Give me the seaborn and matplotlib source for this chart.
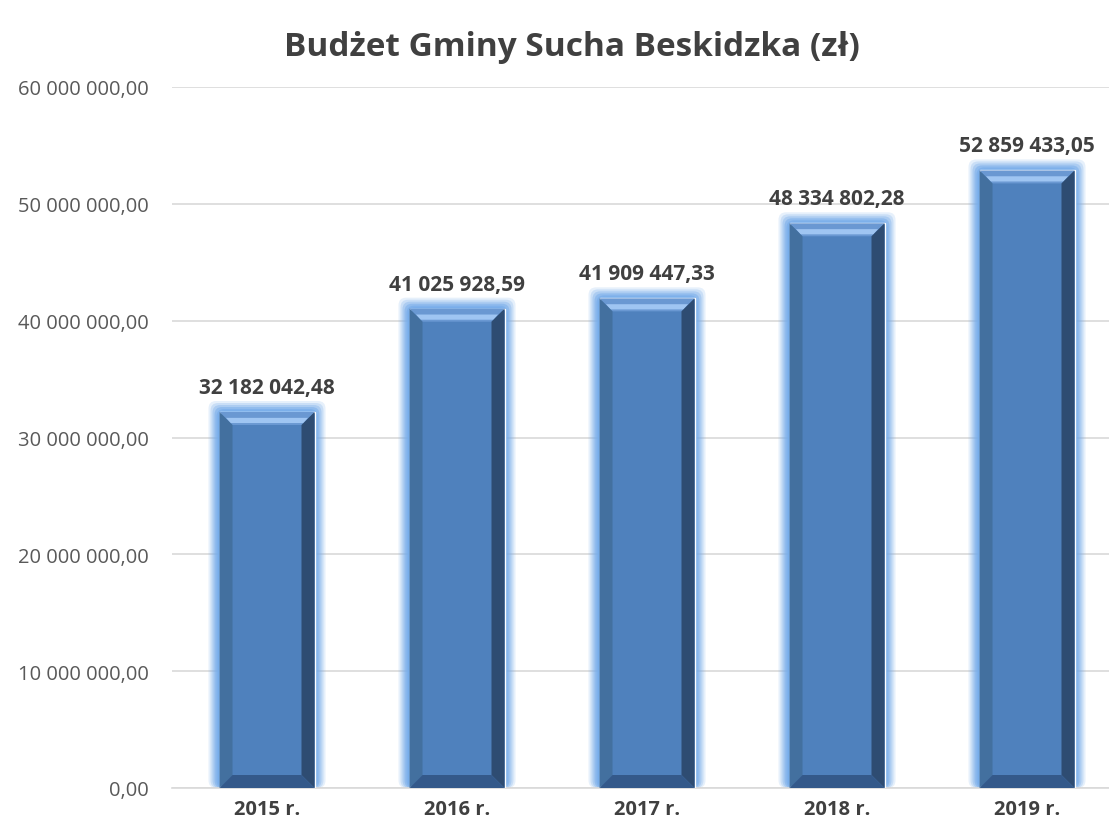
import matplotlib
matplotlib.use("Agg")
import matplotlib.pyplot as plt
from matplotlib.patches import Polygon, FancyBboxPatch
import seaborn as sns
import pandas as pd

# Data
years = ["2015 r.", "2016 r.", "2017 r.", "2018 r.", "2019 r."]
budget = [32182042.48, 41025928.59, 41909447.33, 48334802.28, 52859433.05]
y_ticks = [0, 10e6, 20e6, 30e6, 40e6, 50e6, 60e6]

def pl_fmt(v):
    s = f"{v:,.2f}"
    return s.replace(",", " ").replace(".", ",")

df = pd.DataFrame({"year": years, "budget": budget})

sns.set_theme(style="white")
plt.rcParams["font.family"] = ["Open Sans", "DejaVu Sans"]

fig = plt.figure(figsize=(11.09, 8.29), dpi=100)
ax = fig.add_axes([172 / 1109, 40 / 829, (1122 - 172) / 1109, (789 - 88) / 829])

sns.barplot(data=df, x="year", y="budget", color="#4f81bd", width=0.5,
            saturation=1, ax=ax, zorder=3)

ax.set_xlim(-0.5, 4.5)
ax.set_ylim(0, 60e6)
ax.set_yticks(y_ticks)
ax.set_yticklabels([pl_fmt(v) for v in y_ticks], fontsize=14.5, color="#595959")
ax.tick_params(axis="y", length=0, pad=17)
ax.tick_params(axis="x", length=0, pad=8)
for lab in ax.get_xticklabels():
    lab.set_fontweight("bold")
    lab.set_fontsize(14.5)
    lab.set_color("#404040")
ax.set_xlabel("")
ax.set_ylabel("")
ax.grid(axis="y", color="#d9d9d9", linewidth=1.2, zorder=0)
for s in ["top", "right", "left"]:
    ax.spines[s].set_visible(False)
ax.spines["bottom"].set_color("#d9d9d9")
ax.spines["bottom"].set_linewidth(1.2)

# glow + bevel per bar
ypx = 60e6 / (789 - 88)
xpx = 1 / 190
for p, v in zip(ax.patches, budget):
    x0, w, h = p.get_x(), p.get_width(), p.get_height()
    x1 = x0 + w
    for k, a in [(11, 0.18), (9, 0.25), (7, 0.35), (5, 0.5), (3, 0.65), (1.5, 0.8)]:
        g = FancyBboxPatch((x0 - k * xpx, 0), w + 2 * k * xpx, h + k * ypx,
                           boxstyle=f"round,pad=0,rounding_size={0.04}",
                           mutation_aspect=ypx / xpx,
                           facecolor="#76acea", edgecolor="none", alpha=a,
                           zorder=2, clip_on=False)
        ax.add_patch(g)
    bx, by = 13 * xpx, 13 * ypx
    # top bevel
    ax.add_patch(Polygon([(x0, h), (x1, h), (x1 - bx, h - by), (x0 + bx, h - by)],
                         closed=True, facecolor="#6a98d2", edgecolor="none", zorder=4))
    ax.add_patch(Polygon([(x0 + bx * 0.5, h - by * 0.45), (x1 - bx * 0.5, h - by * 0.45),
                          (x1 - bx * 0.85, h - by * 0.85), (x0 + bx * 0.85, h - by * 0.85)],
                         closed=True, facecolor="#9fc5f2", edgecolor="none", zorder=4))
    # left bevel
    ax.add_patch(Polygon([(x0, h), (x0 + bx, h - by), (x0 + bx, by), (x0, 0)],
                         closed=True, facecolor="#43709f", edgecolor="none", zorder=4))
    # right bevel
    ax.add_patch(Polygon([(x1, h), (x1 - bx, h - by), (x1 - bx, by), (x1, 0)],
                         closed=True, facecolor="#2e4c72", edgecolor="none", zorder=4))
    # bottom bevel
    ax.add_patch(Polygon([(x0, 0), (x1, 0), (x1 - bx, by), (x0 + bx, by)],
                         closed=True, facecolor="#34598a", edgecolor="none", zorder=4))
    ax.text(x0 + w / 2, h + 14 * ypx, pl_fmt(v), ha="center", va="bottom",
            fontsize=15, fontweight="bold", color="#404040", zorder=5)

fig.text(572 / 1109, 1 - 48 / 829, "Budżet Gminy Sucha Beskidzka (zł)", ha="center",
         va="center", fontsize=24, fontweight="bold", color="#404040")

fig.savefig("out.png", dpi=100)
